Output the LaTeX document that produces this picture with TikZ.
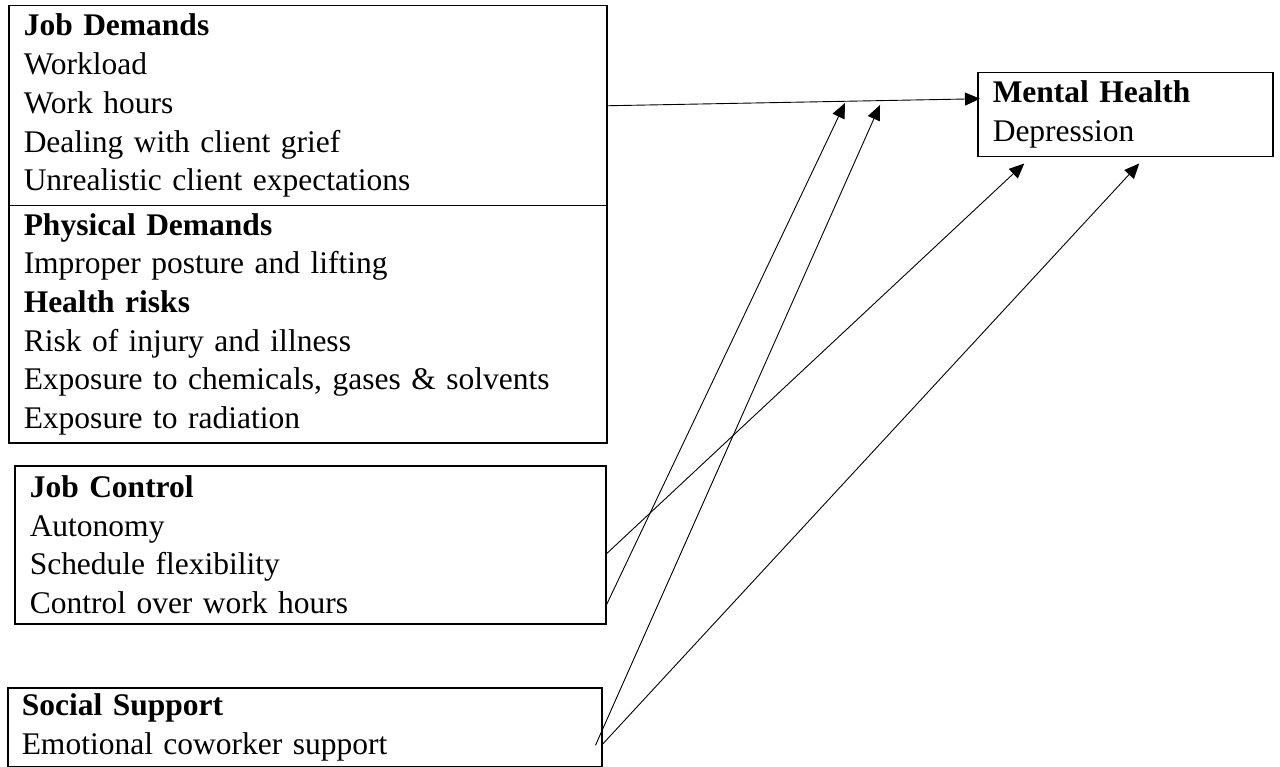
\documentclass[tikz,border=0pt]{standalone}
\usepackage{fontspec}
\setmainfont{Liberation Serif}
\usetikzlibrary{arrows.meta}

\begin{document}
\begin{tikzpicture}[x=1pt,y=-1pt]
\tikzset{box/.style={draw,line width=1.5pt,anchor=north west,align=left,inner xsep=15pt,inner ysep=0pt,font=\fontsize{31.5}{38.7}\selectfont},
link/.style={line width=0.9pt,-{Triangle[length=15pt,width=13pt]}}}
\useasboundingbox (0,0) rectangle (1280,767);
\node[box,text width=568pt,minimum height=200pt] (jobdem) at (8,5) {\textbf{Job Demands}\\Workload\\Work hours\\Dealing with client grief\\Unrealistic client expectations};
\node[box,text width=568pt,minimum height=237pt] (phys) at (8,205) {\textbf{Physical Demands}\\Improper posture and lifting\\\textbf{Health risks}\\Risk of injury and illness\\Exposure to chemicals, gases \& solvents\\Exposure to radiation};
\node[box,text width=561pt,minimum height=158pt] (ctrl) at (14,465) {\textbf{Job Control}\\Autonomy\\Schedule flexibility\\Control over work hours};
\node[box,text width=566pt,minimum height=79pt,inner xsep=14pt] (social) at (7,687) {\textbf{Social Support}\\Emotional coworker support};
\node[box,text width=265pt,minimum height=84pt] (mh) at (977,72) {\textbf{Mental Health}\\Depression};
\coordinate (tipA) at (845,103);
\coordinate (tipB) at (880,105);
\draw[link] (jobdem.east) -- ([xshift=3pt,yshift=16pt]mh.west);
\draw[link] ([yshift=-9pt]ctrl.east) -- ([xshift=-101pt,yshift=-6pt]mh.south);
\draw[link] ([yshift=-60pt]ctrl.east) -- (tipA);
\draw[link] ([xshift=-7pt,yshift=-18pt]social.east) -- (tipB);
\draw[link] ([yshift=-17pt]social.east) -- ([xshift=14pt,yshift=-6pt]mh.south);
\end{tikzpicture}
\end{document}
